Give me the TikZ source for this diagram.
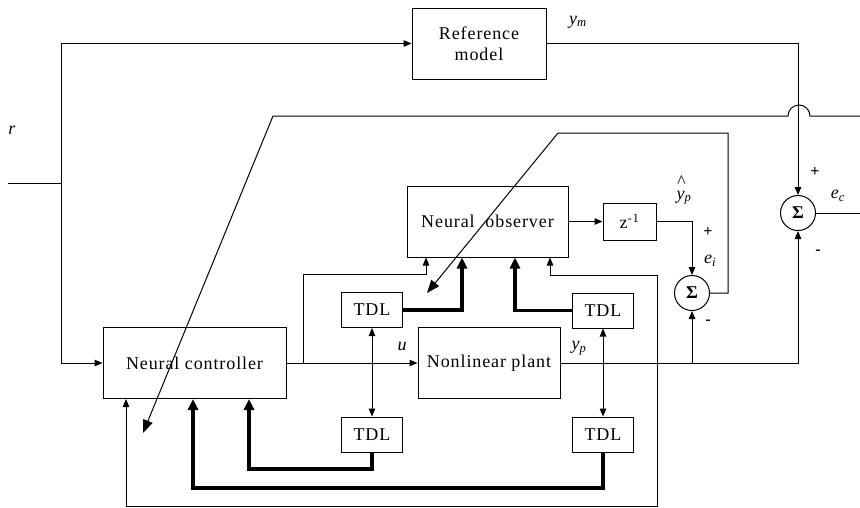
\documentclass[tikz,border=0pt]{standalone}
\usepackage{fontspec}
\setmainfont{Liberation Serif}
\newfontfamily\blockfont{Liberation Serif}[LetterSpace=5]
\usetikzlibrary{arrows.meta}

\begin{document}
\begin{tikzpicture}[
    x=1pt, y=-1pt,
    every node/.style={font=\blockfont\fontsize{18}{21}\selectfont},
    block/.style={rectangle, draw, line width=1pt, align=center, inner sep=0pt},
    tdlbox/.style={block, minimum width=61pt, minimum height=35pt},
    sumnode/.style={circle, draw, line width=1pt, minimum size=35pt, inner sep=0pt,
                    font=\fontsize{18}{18}\selectfont\bfseries},
    wire/.style={line width=1pt},
    sig/.style={wire, -{Triangle[length=8pt,width=6.5pt]}},
    bisig/.style={wire, {Triangle[length=8pt,width=6.5pt]}-{Triangle[length=8pt,width=6.5pt]}},
    bus/.style={line width=3.4pt, -{Triangle[length=11pt,width=10pt]}},
    adapt/.style={wire, -{Triangle[length=13pt,width=10pt]}},
    lbl/.style={font=\fontsize{18}{18}\selectfont\itshape, inner sep=0pt},
    sgn/.style={font=\fontsize{16}{16}\selectfont\bfseries, inner sep=0pt}
]
\useasboundingbox (0,0) rectangle (860,507);

\node[block, minimum width=134pt, minimum height=71pt] (refmodel) at (479,43.5) {Reference\\model};
\node[block, minimum width=161pt, minimum height=71pt] (observer) at (487.5,221.5) {Neural\ \ observer};
\node[block, minimum width=53pt, minimum height=37pt] (delay) at (629.5,221.5) {z\textsuperscript{-1}};
\node[block, minimum width=183pt, minimum height=71pt] (controller) at (194.5,363) {Neural controller};
\node[block, minimum width=142pt, minimum height=71pt] (plant) at (489,363) {Nonlinear plant};
\node[tdlbox] (tdlu1) at (372,310) {TDL};
\node[tdlbox] (tdly1) at (603,310.5) {TDL};
\node[tdlbox] (tdlu2) at (372,434.5) {TDL};
\node[tdlbox] (tdly2) at (603,434.5) {TDL};
\node[sumnode] (sumi) at (692,293) {Σ};
\node[sumnode] (sumc) at (798,213) {Σ};

\coordinate (rin) at (8,183);
\coordinate (rsplit) at (61,183);
\coordinate (usplit) at (303,363);
\coordinate (ysplit) at (657,363);

\node[lbl] (rlbl) at (12,130) {r};
\node[lbl] (ymlbl) at (578,22) {y\textsubscript{m}};
\node[lbl] (ulbl) at (402,346) {u};
\node[lbl] (yplbl) at (579,348) {y\textsubscript{p}};
\node[lbl] (yhatlbl) at (684,190) {\shortstack{\textasciicircum\\[1pt]y}\textsubscript{p}};
\node[lbl] (eilbl) at (710,261) {e\textsubscript{i}};
\node[lbl] (eclbl) at (838,196) {e\textsubscript{c}};
\node[sgn] (pi) at (708,232) {+};
\node[sgn] (mi) at (708,322) {-};
\node[sgn] (pc) at (815,172) {+};
\node[sgn] (mc) at (818,252) {-};

\draw[wire] (rin) -- (rsplit);
\draw[sig] (rsplit) |- (refmodel.west);
\draw[sig] (rsplit) |- (controller.west);
\draw[sig] (refmodel.east) -| (sumc.north);
\draw[sig] (controller.east) -- (plant.west);
\draw[sig] (usplit) -- (303,274) -| (426,0 |- observer.south);
\draw[bisig] (tdlu1.south) -- (tdlu2.north);
\draw[bisig] (tdly1.south) -- (tdly2.north);
\draw[bus] (tdlu1.east) -| (462,0 |- observer.south);
\draw[bus] (tdly1.west) -| (515,0 |- observer.south);
\draw[bus] (tdlu2.south) |- (249,469) -- (249,0 |- controller.south);
\draw[bus] (tdly2.south) |- (193,488) -- (193,0 |- controller.south);
\draw[sig] (observer.east) -- (delay.west);
\draw[sig] (delay.east) -| (sumi.north);
\draw[sig] (plant.east) -| (sumc.south);
\draw[sig] (sumi.south |- plant.east) -- (sumi.south);
\draw[sig] (ysplit) -- (657,275) -| (550,0 |- observer.south);
\draw[sig] (ysplit) -- (657,506) -| (126,0 |- controller.south);
\draw[wire] (sumc.east) -- (860,213);
\draw[adapt] (sumi.east) -| (728,133) -- (558,133) -- (427,293);
\draw[adapt] (860,116) -- (810,116) arc[start angle=0, end angle=180, radius=11pt]
    -- (273,116) -- (143,433);
\end{tikzpicture}
\end{document}
